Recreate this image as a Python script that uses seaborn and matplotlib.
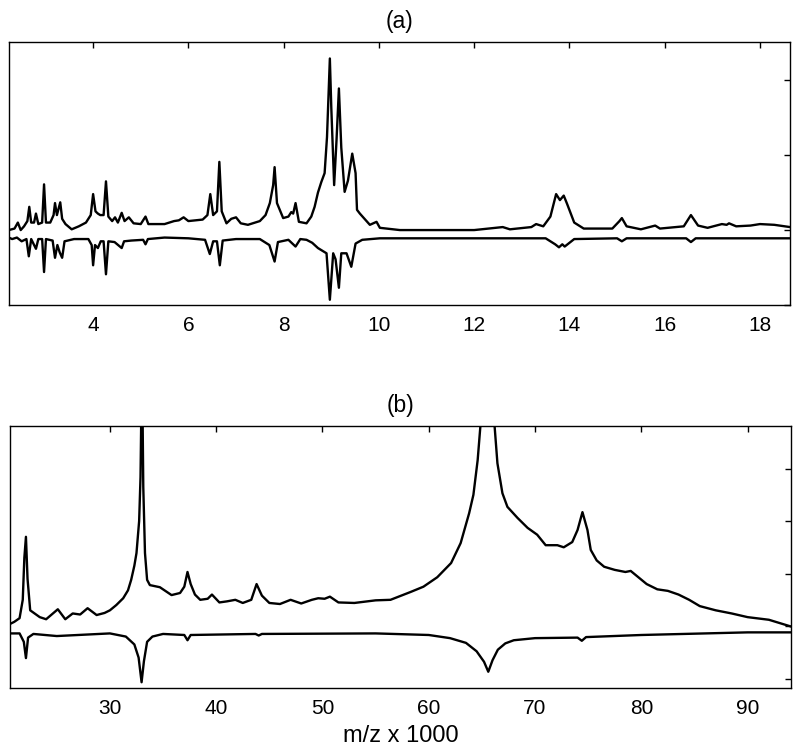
import matplotlib
matplotlib.use("Agg")
import matplotlib.pyplot as plt
import pandas as pd
import seaborn as sns

# spectra, as (x, intensity) pairs
# panel (a), upper trace
a_upper = [
    (2.23, 0.0), (2.35, 0.02), (2.42, 0.10), (2.48, 0.0), (2.55, 0.05), (2.62, 0.12),
    (2.66, 0.31), (2.70, 0.10), (2.76, 0.10), (2.80, 0.22), (2.85, 0.08), (2.93, 0.10),
    (2.97, 0.61), (3.01, 0.10), (3.10, 0.10), (3.17, 0.20), (3.20, 0.36), (3.24, 0.20),
    (3.28, 0.30), (3.31, 0.37), (3.35, 0.15), (3.42, 0.08), (3.55, 0.01), (3.70, 0.05),
    (3.85, 0.10), (3.95, 0.20), (4.00, 0.48), (4.05, 0.25), (4.10, 0.22), (4.15, 0.20),
    (4.22, 0.20), (4.27, 0.65), (4.32, 0.18), (4.40, 0.12), (4.46, 0.17), (4.52, 0.10),
    (4.60, 0.23), (4.66, 0.12), (4.75, 0.17), (4.85, 0.09), (5.00, 0.08), (5.10, 0.18),
    (5.16, 0.08), (5.50, 0.08), (5.70, 0.12), (5.80, 0.13), (5.90, 0.17), (6.00, 0.12),
    (6.30, 0.14), (6.40, 0.20), (6.46, 0.48), (6.52, 0.20), (6.60, 0.25), (6.65, 0.91),
    (6.70, 0.25), (6.80, 0.09), (6.90, 0.15), (7.00, 0.17), (7.10, 0.09), (7.25, 0.07),
    (7.50, 0.12), (7.62, 0.20), (7.71, 0.36), (7.78, 0.60), (7.81, 0.84), (7.86, 0.36),
    (7.99, 0.16), (8.10, 0.18), (8.16, 0.24), (8.20, 0.22), (8.25, 0.36), (8.32, 0.11),
    (8.48, 0.09), (8.58, 0.18), (8.65, 0.31), (8.72, 0.50), (8.79, 0.64), (8.86, 0.76),
    (8.91, 1.24), (8.97, 2.29), (9.00, 1.64), (9.06, 0.60), (9.11, 1.20), (9.16, 1.89),
    (9.21, 1.10), (9.28, 0.51), (9.35, 0.66), (9.44, 1.02), (9.51, 0.76), (9.54, 0.27),
    (9.60, 0.22), (9.67, 0.17), (9.81, 0.07), (9.95, 0.11), (10.02, 0.03), (10.44, 0.0),
    (11.0, 0.0), (12.0, 0.0), (12.45, 0.03), (12.6, 0.04), (12.75, 0.01), (13.2, 0.04),
    (13.3, 0.08), (13.45, 0.05), (13.6, 0.18), (13.72, 0.48), (13.8, 0.40), (13.88, 0.46),
    (13.95, 0.35), (14.1, 0.10), (14.3, 0.02), (14.9, 0.02), (15.05, 0.12), (15.1, 0.16),
    (15.2, 0.05), (15.5, 0.01), (15.8, 0.06), (15.9, 0.02), (16.4, 0.05), (16.55, 0.20),
    (16.7, 0.06), (16.9, 0.03), (17.2, 0.08), (17.3, 0.07), (17.35, 0.09), (17.5, 0.05),
    (17.8, 0.06), (18.0, 0.08), (18.3, 0.07), (18.63, 0.04),
]
# panel (a), lower (inverted) trace
a_lower = [
    (2.23, -0.10), (2.30, -0.12), (2.40, -0.10), (2.50, -0.15), (2.60, -0.12), (2.65, -0.35),
    (2.70, -0.12), (2.80, -0.25), (2.85, -0.12), (2.93, -0.12), (2.97, -0.56), (3.01, -0.12),
    (3.15, -0.14), (3.20, -0.37), (3.25, -0.20), (3.30, -0.30), (3.35, -0.37), (3.40, -0.15),
    (3.60, -0.12), (3.90, -0.12), (3.97, -0.20), (4.00, -0.47), (4.04, -0.20), (4.10, -0.24),
    (4.16, -0.15), (4.22, -0.15), (4.27, -0.59), (4.32, -0.15), (4.45, -0.16), (4.60, -0.24),
    (4.65, -0.15), (4.80, -0.14), (5.05, -0.13), (5.10, -0.19), (5.15, -0.12), (5.50, -0.10),
    (6.00, -0.11), (6.35, -0.13), (6.45, -0.32), (6.52, -0.15), (6.60, -0.15), (6.66, -0.47),
    (6.72, -0.14), (7.00, -0.12), (7.50, -0.12), (7.70, -0.20), (7.81, -0.42), (7.88, -0.16),
    (8.10, -0.13), (8.25, -0.22), (8.35, -0.12), (8.48, -0.13), (8.60, -0.17), (8.72, -0.24),
    (8.90, -0.31), (8.97, -0.93), (9.04, -0.31), (9.09, -0.39), (9.16, -0.77), (9.21, -0.31),
    (9.32, -0.31), (9.42, -0.49), (9.51, -0.18), (9.65, -0.13), (10.02, -0.11), (13.5, -0.11),
    (13.7, -0.19), (13.78, -0.23), (13.85, -0.19), (13.9, -0.22), (14.1, -0.12), (15.0, -0.11),
    (15.1, -0.15), (15.2, -0.11), (16.45, -0.11), (16.55, -0.16), (16.65, -0.11), (18.63, -0.11),
]
# panel (b), upper trace
b_upper = [
    (20.6, 0.04), (21.0, 0.08), (21.5, 0.15), (21.8, 0.50), (21.95, 1.30), (22.1, 1.70),
    (22.25, 0.90), (22.5, 0.30), (23.4, 0.17), (24.0, 0.13), (25.1, 0.32), (25.8, 0.13),
    (26.5, 0.24), (27.2, 0.22), (27.9, 0.34), (28.75, 0.21), (29.5, 0.25), (30.0, 0.30),
    (30.6, 0.40), (31.25, 0.53), (31.7, 0.68), (32.0, 0.88), (32.3, 1.15), (32.5, 1.39),
    (32.75, 2.00), (32.88, 2.84), (32.98, 4.50), (33.05, 4.50), (33.14, 2.65), (33.3, 1.39),
    (33.5, 0.88), (33.76, 0.78), (34.7, 0.74), (35.8, 0.59), (36.6, 0.63), (37.0, 0.75),
    (37.3, 1.03), (37.6, 0.80), (38.0, 0.60), (38.5, 0.50), (39.2, 0.52), (39.6, 0.60),
    (40.3, 0.45), (41.0, 0.47), (41.8, 0.50), (42.5, 0.44), (43.3, 0.50), (43.8, 0.80),
    (44.3, 0.58), (45.0, 0.44), (46.0, 0.42), (47.0, 0.50), (48.0, 0.43), (49.0, 0.50),
    (49.6, 0.53), (50.2, 0.52), (50.7, 0.56), (51.5, 0.45), (53.0, 0.44), (55.0, 0.49),
    (56.4, 0.50), (58.3, 0.65), (59.5, 0.75), (60.8, 0.93), (62.1, 1.20), (63.0, 1.58),
    (63.8, 2.15), (64.2, 2.50), (64.6, 3.16), (64.85, 3.79), (65.2, 5.00), (65.6, 6.00),
    (66.0, 5.00), (66.2, 3.79), (66.46, 3.10), (66.93, 2.53), (67.4, 2.27), (68.35, 2.06),
    (69.3, 1.87), (70.2, 1.74), (71.0, 1.54), (72.1, 1.54), (72.7, 1.50), (73.5, 1.60),
    (74.0, 1.83), (74.46, 2.17), (74.93, 1.83), (75.24, 1.45), (75.8, 1.25), (76.5, 1.13),
    (77.5, 1.07), (78.5, 1.03), (79.0, 1.05), (79.6, 0.95), (80.5, 0.80), (81.5, 0.70),
    (82.5, 0.67), (83.5, 0.60), (84.5, 0.50), (85.5, 0.38), (87.0, 0.30), (88.5, 0.24),
    (90.0, 0.17), (92.0, 0.12), (94.1, -0.01),
]
# panel (b), lower (inverted) trace
b_lower = [
    (20.6, -0.14), (21.5, -0.14), (21.9, -0.30), (22.1, -0.61), (22.3, -0.22), (22.8, -0.15),
    (25.0, -0.19), (30.0, -0.14), (31.5, -0.20), (32.3, -0.35), (32.7, -0.60), (32.98, -1.07),
    (33.2, -0.67), (33.5, -0.30), (34.0, -0.20), (35.0, -0.15), (37.0, -0.17), (37.3, -0.27),
    (37.6, -0.17), (43.7, -0.15), (44.0, -0.18), (44.3, -0.15), (55.0, -0.14), (60.0, -0.17),
    (62.0, -0.23), (63.5, -0.32), (64.5, -0.48), (65.2, -0.68), (65.6, -0.87), (66.0, -0.65),
    (66.5, -0.45), (67.2, -0.33), (68.0, -0.27), (70.0, -0.23), (74.0, -0.22), (74.4, -0.28),
    (74.8, -0.21), (80.0, -0.17), (90.0, -0.12), (94.1, -0.12),
]

sns.set_style("white")
plt.rcParams['font.family'] = ['Liberation Sans', 'DejaVu Sans']
plt.rcParams['text.color'] = 'black'
plt.rcParams['axes.labelcolor'] = 'black'
plt.rcParams['xtick.color'] = 'black'
plt.rcParams['ytick.color'] = 'black'

fig = plt.figure(figsize=(8, 7.54), dpi=100)
ax_a = fig.add_axes([0.011, 0.5955, 0.9765, 0.3485])
ax_b = fig.add_axes([0.0125, 0.0875, 0.9765, 0.3475])


def to_frame(upper, lower):
    up = pd.DataFrame(upper, columns=["x", "y"]).assign(trace="upper")
    dn = pd.DataFrame(lower, columns=["x", "y"]).assign(trace="lower")
    return pd.concat([up, dn], ignore_index=True)


def draw(ax, upper, lower):
    sns.lineplot(data=to_frame(upper, lower), x="x", y="y", units="trace",
                 estimator=None, color="black", linewidth=1.7, ax=ax, legend=False)
    ax.set_xlabel("")
    ax.set_ylabel("")
    ax.tick_params(direction="in", top=True, right=True, length=4, width=1,
                   labelsize=15, labelleft=False, pad=8, colors="black")
    for s in ax.spines.values():
        s.set_linewidth(1.0)
        s.set_color("black")


draw(ax_a, a_upper, a_lower)
ax_a.set_xlim(2.23, 18.63)
ax_a.set_ylim(-1.0, 2.507)
ax_a.set_xticks([4, 6, 8, 10, 12, 14, 16, 18])
ax_a.set_yticks([-1, 0, 1, 2])
ax_a.set_title("(a)", fontsize=16.5, pad=10)

draw(ax_b, b_upper, b_lower)
ax_b.set_xlim(20.6, 94.1)
ax_b.set_ylim(-1.18, 3.81)
ax_b.set_xticks([30, 40, 50, 60, 70, 80, 90])
ax_b.set_yticks([-1, 0, 1, 2, 3])
ax_b.set_title("(b)", fontsize=16.5, pad=10)
ax_b.set_xlabel("m/z x 1000", fontsize=17, labelpad=5)

fig.savefig("out.png", dpi=100)
